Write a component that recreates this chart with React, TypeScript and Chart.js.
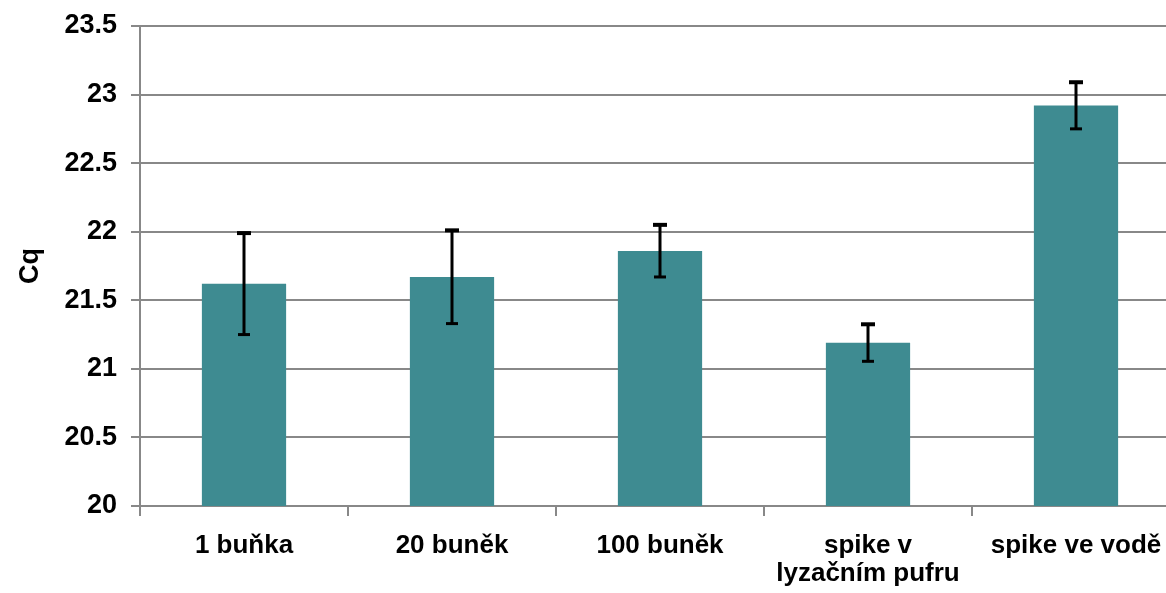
import React, { useEffect, useRef } from "react";
import { Chart, registerables } from "chart.js";

Chart.register(...registerables);

const categories: (string | string[])[] = [
  "1 buňka",
  "20 buněk",
  "100 buněk",
  ["spike v", "lyzačním pufru"],
  "spike ve vodě",
];
const cqValues = [21.62, 21.67, 21.86, 21.19, 22.92];
const cqErrors = [0.37, 0.34, 0.19, 0.135, 0.17];
const yTicks = { min: 20, max: 23.5, step: 0.5 };

const errorBarPlugin = {
  id: "errorBars",
  afterDatasetsDraw(chart: any) {
    const { ctx } = chart;
    const yScale = chart.scales.y;
    const meta = chart.getDatasetMeta(0);
    ctx.save();
    ctx.strokeStyle = "#000000";
    meta.data.forEach((bar: any, i: number) => {
      const x = bar.x;
      const top = yScale.getPixelForValue(cqValues[i] + cqErrors[i]);
      const bot = yScale.getPixelForValue(cqValues[i] - cqErrors[i]);
      ctx.lineWidth = 3;
      ctx.beginPath();
      ctx.moveTo(x, top);
      ctx.lineTo(x, bot);
      ctx.stroke();
      ctx.lineWidth = 4;
      ctx.beginPath();
      ctx.moveTo(x - 7, top);
      ctx.lineTo(x + 7, top);
      ctx.stroke();
      ctx.lineWidth = 3;
      ctx.beginPath();
      ctx.moveTo(x - 6, bot);
      ctx.lineTo(x + 6, bot);
      ctx.stroke();
    });
    ctx.restore();
  },
};

export default function App() {
  const ref = useRef<HTMLCanvasElement>(null);
  useEffect(() => {
    document.body.style.margin = "0";
    document.body.style.overflow = "hidden";
    const font = { family: "'Liberation Sans', Arial, sans-serif", weight: "bold" as const };
    const chart = new Chart(ref.current!, {
      type: "bar",
      data: {
        labels: categories,
        datasets: [
          {
            data: cqValues,
            backgroundColor: "#3E8B91",
            borderWidth: 0,
            barPercentage: 0.405,
            categoryPercentage: 1,
          },
        ],
      },
      options: {
        animation: false,
        responsive: false,
        maintainAspectRatio: false,
        layout: { padding: { top: 26, right: 6, left: 0, bottom: 0 } },
        plugins: { legend: { display: false }, tooltip: { enabled: false } },
        scales: {
          x: {
            grid: {
              offset: true,
              drawOnChartArea: false,
              drawTicks: true,
              tickLength: 10,
              color: "#888888",
              lineWidth: 2,
            },
            border: { color: "#888888", width: 2 },
            ticks: {
              color: "#000000",
              font: { ...font, size: 26, lineHeight: 1.07 },
              padding: 16,
              maxRotation: 0,
              autoSkip: false,
            },
            afterFit: (s: any) => {
              s.height = 87;
              s.paddingLeft = 0;
              s.paddingRight = 0;
            },
          },
          y: {
            min: yTicks.min,
            max: yTicks.max,
            ticks: {
              stepSize: yTicks.step,
              color: "#000000",
              font: { ...font, size: 27 },
              padding: 14,
              callback: (v: any) => String(Number(v)),
            },
            grid: {
              color: "#888888",
              lineWidth: 2,
              tickLength: 9,
            },
            border: { color: "#888888", width: 2 },
            title: {
              display: true,
              text: "Cq",
              color: "#000000",
              font: { ...font, size: 27 },
              padding: { top: 14, bottom: 0 },
            },
            afterFit: (s: any) => {
              s.width = 140;
              s.paddingTop = 0;
              s.paddingBottom = 0;
            },
          },
        },
      },
      plugins: [errorBarPlugin],
    });
    return () => chart.destroy();
  }, []);
  return (
    <div style={{ position: "fixed", left: 0, top: 0, width: 1186, height: 593 }}>
      <canvas ref={ref} width={1186} height={593} style={{ width: 1186, height: 593 }} />
    </div>
  );
}
